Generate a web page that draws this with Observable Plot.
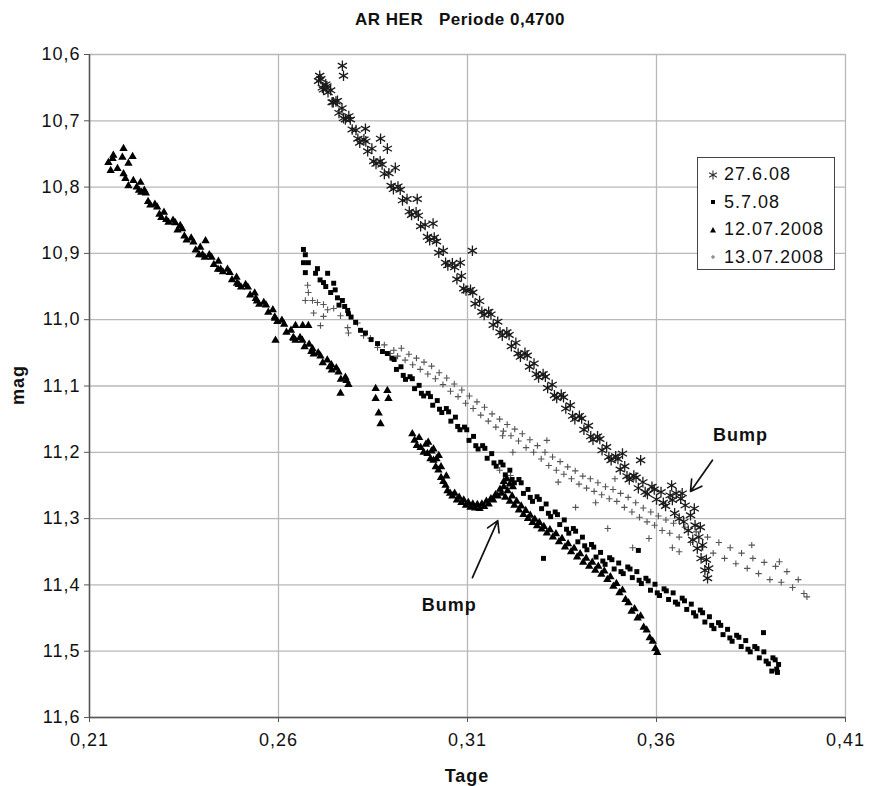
<!DOCTYPE html>
<html>
<head>
<meta charset="utf-8">
<script src="https://cdn.jsdelivr.net/npm/d3@7"></script>
<script src="https://cdn.jsdelivr.net/npm/@observablehq/plot@0.6"></script>
<style>
  body { margin: 0; background: #fff; font-family: "Liberation Sans", Arial, sans-serif; }
  #wrap { position: relative; width: 876px; height: 786px; overflow: hidden; }
  #title { position: absolute; left: 460px; top: 11px; transform: translateX(-50%); line-height: 18px;
           font-weight: bold; font-size: 17px; letter-spacing: 0.5px; color: #111; white-space: pre; }
  #chart { position: absolute; left: 0; top: 40px; }
  #chart svg text { letter-spacing: 1px; }
  #ylab { position: absolute; left: 18px; top: 385px; transform: translate(-50%, -50%) rotate(-90deg);
          font-weight: bold; font-size: 18px; letter-spacing: 1px; color: #111; }
  #xlab { position: absolute; left: 467px; top: 776px; transform: translate(-50%, -50%);
          font-weight: bold; font-size: 18px; letter-spacing: 1px; color: #111; }
  #legend { position: absolute; left: 697px; top: 157px; width: 138px; height: 113px; box-sizing: border-box;
            border: 1px solid #444; background: #fff; padding-top: 3px; }
  .row { height: 27.5px; display: flex; align-items: center; font-size: 18px; letter-spacing: 1px; color: #111; }
  .row svg { width: 12px; height: 12px; margin-left: 9px; margin-right: 5px; }
</style>
</head>
<body>
<div id="wrap">
  <div id="chart"></div>
  <div id="title">AR HER   Periode 0,4700</div>
  <div id="ylab">mag</div>
  <div id="xlab">Tage</div>
  <div id="legend"></div>
</div>
<script>
// ---- data (Tage, mag) ----
const seriesNames = ["27.6.08", "5.7.08", "12.07.2008", "13.07.2008"];
const xTicks = [0.21, 0.26, 0.31, 0.36, 0.41];
const yTicks = [10.6, 10.7, 10.8, 10.9, 11.0, 11.1, 11.2, 11.3, 11.4, 11.5, 11.6];

const d27_6 = [
  [0.2706,10.640],[0.2712,10.637],[0.2719,10.653],[0.2725,10.645],[0.2731,10.657],[0.2738,10.654],[0.2745,10.672],[0.2752,10.671],
  [0.2760,10.688],[0.2768,10.681],[0.2777,10.698],[0.2786,10.693],[0.2795,10.713],[0.2805,10.714],[0.2815,10.733],[0.2826,10.728],
  [0.2836,10.746],[0.2847,10.742],[0.2858,10.765],[0.2869,10.761],[0.2880,10.780],[0.2892,10.779],[0.2904,10.803],[0.2916,10.799],
  [0.2928,10.820],[0.2940,10.818],[0.2952,10.842],[0.2964,10.838],[0.2976,10.859],[0.2988,10.857],[0.3000,10.880],[0.3012,10.876],
  [0.3024,10.899],[0.3036,10.896],[0.3048,10.918],[0.3060,10.915],[0.3072,10.939],[0.3084,10.934],[0.3096,10.956],[0.3108,10.955],
  [0.3120,10.976],[0.3132,10.972],[0.3144,10.993],[0.3156,10.988],[0.3168,11.008],[0.3180,11.003],[0.3192,11.024],[0.3204,11.019],
  [0.3216,11.040],[0.3228,11.035],[0.3240,11.056],[0.3252,11.050],[0.3264,11.071],[0.3276,11.066],[0.3288,11.087],[0.3300,11.082],
  [0.3312,11.103],[0.3324,11.098],[0.3336,11.118],[0.3348,11.113],[0.3360,11.134],[0.3372,11.129],[0.3384,11.150],[0.3396,11.145],
  [0.3408,11.166],[0.3420,11.160],[0.3432,11.181],[0.3444,11.176],[0.3456,11.197],[0.3468,11.192],[0.3480,11.212],[0.3492,11.206],
  [0.3504,11.226],[0.3516,11.221],[0.3528,11.241],[0.3540,11.235],[0.3552,11.254],[0.3564,11.245],[0.3576,11.263],[0.3588,11.252],
  [0.3600,11.271],[0.3612,11.260],[0.3624,11.281],[0.3636,11.265],[0.3648,11.292],[0.3652,11.262],[0.3660,11.300],[0.3664,11.270],
  [0.3672,11.305],[0.3676,11.280],[0.3684,11.318],[0.3690,11.295],[0.3696,11.332],[0.3702,11.310],[0.3708,11.345],[0.3712,11.328],
  [0.3718,11.360],[0.3722,11.340],[0.3728,11.378],[0.3732,11.362],[0.3735,11.390],[0.3738,11.375],
  [0.2709,10.632],[0.2716,10.650],[0.2728,10.648],[0.2742,10.672],[0.2756,10.670],[0.2772,10.696],[0.2790,10.698],[0.2810,10.727],
  [0.2831,10.731],[0.2852,10.761],[0.2874,10.766],[0.2898,10.798],[0.2922,10.804],[0.2946,10.837],[0.2970,10.843],[0.2994,10.875],
  [0.3018,10.882],[0.3042,10.914],[0.3066,10.921],[0.3090,10.953],[0.3114,10.959],[0.3138,10.988],[0.3162,10.992],[0.3186,11.019],
  [0.3210,11.023],[0.3234,11.051],[0.3258,11.054],[0.3282,11.082],[0.3306,11.086],[0.3330,11.114],[0.3354,11.117],[0.3378,11.145],
  [0.3402,11.149],[0.3426,11.176],[0.3450,11.180],[0.3474,11.207],[0.3498,11.210],[0.3522,11.236],[0.3546,11.238],[0.3570,11.260],
  [0.3594,11.256],[0.3618,11.276],[0.3642,11.272],
  [0.2769,10.617],[0.2772,10.632],[0.3113,10.896],[0.2830,10.712],[0.2870,10.727],[0.2888,10.742],[0.2909,10.771],[0.2967,10.818],
  [0.3009,10.855],[0.3081,10.914],[0.3510,11.202],[0.3558,11.212],[0.3716,11.313],[0.3640,11.250],[0.3668,11.262],[0.3700,11.285]
];

const d5_7 = [
  [0.2666,10.894],[0.2671,10.902],[0.2666,10.914],[0.2679,10.914],[0.2671,10.929],[0.2698,10.930],[0.2703,10.923],[0.2719,10.944],
  [0.2730,10.930],[0.2746,10.945],[0.2738,10.959],[0.2756,10.967],[0.2769,10.971],[0.2783,10.986],[0.2785,10.991],[0.2710,10.940],
  [0.2725,10.950],[0.2750,10.955],[0.2760,10.978],[0.2775,10.980],[0.2792,10.996],[0.2804,11.004],[0.2817,11.016],[0.2830,11.020],
  [0.2845,11.030],[0.2862,11.036],[0.2875,11.048],[0.2888,11.051],
  [0.2900,11.058],[0.2912,11.075],[0.2924,11.071],[0.2936,11.090],[0.2948,11.086],[0.2960,11.104],[0.2972,11.099],[0.2984,11.115],
  [0.2996,11.111],[0.3008,11.129],[0.3020,11.122],[0.3032,11.140],[0.3044,11.134],[0.3056,11.153],[0.3068,11.147],[0.3080,11.166],
  [0.3092,11.162],[0.3104,11.182],[0.3116,11.176],[0.3128,11.195],[0.3140,11.190],[0.3152,11.209],[0.3164,11.202],[0.3176,11.221],
  [0.3188,11.215],[0.3200,11.234],[0.3212,11.227],[0.3224,11.246],[0.3236,11.241],[0.3248,11.262],[0.3260,11.256],[0.3272,11.274],
  [0.3284,11.267],[0.3296,11.285],[0.3308,11.278],[0.3320,11.297],[0.3332,11.290],[0.3344,11.309],[0.3356,11.302],[0.3368,11.322],
  [0.3380,11.315],[0.3392,11.335],[0.3404,11.328],[0.3416,11.347],[0.3428,11.339],[0.3440,11.358],[0.3452,11.351],[0.3464,11.369],
  [0.3476,11.359],[0.3488,11.376],[0.3500,11.367],[0.3512,11.383],[0.3524,11.373],[0.3536,11.389],[0.3548,11.380],[0.3560,11.398],
  [0.3572,11.390],[0.3584,11.408],[0.3596,11.399],[0.3608,11.416],[0.3620,11.406],[0.3632,11.422],[0.3644,11.412],[0.3656,11.429],
  [0.3668,11.420],[0.3680,11.437],[0.3692,11.429],[0.3704,11.447],[0.3716,11.438],[0.3728,11.456],[0.3740,11.448],[0.3752,11.466],
  [0.3764,11.457],[0.3776,11.475],[0.3788,11.467],[0.3800,11.485],[0.3812,11.476],[0.3824,11.493],[0.3836,11.484],[0.3848,11.501],
  [0.3860,11.493],[0.3872,11.510],[0.3884,11.501],[0.3896,11.519],[0.3908,11.510],[0.3918,11.527],[0.3923,11.520],
  [0.2906,11.060],[0.2930,11.084],[0.2954,11.089],[0.2978,11.111],[0.3002,11.116],[0.3026,11.135],[0.3050,11.139],[0.3074,11.161],
  [0.3098,11.166],[0.3122,11.190],[0.3146,11.194],[0.3170,11.216],[0.3194,11.219],[0.3218,11.241],[0.3242,11.246],[0.3266,11.268],
  [0.3290,11.271],[0.3314,11.292],[0.3338,11.294],[0.3362,11.316],[0.3386,11.319],[0.3410,11.341],[0.3434,11.343],[0.3458,11.364],
  [0.3482,11.362],[0.3506,11.380],[0.3530,11.376],[0.3554,11.393],[0.3578,11.394],[0.3602,11.412],[0.3626,11.409],[0.3650,11.426],
  [0.3674,11.424],[0.3698,11.442],[0.3722,11.442],[0.3746,11.461],[0.3770,11.461],[0.3794,11.480],[0.3818,11.479],[0.3842,11.497],
  [0.3866,11.496],[0.3890,11.515],[0.3914,11.513],
  [0.3301,11.360],[0.3552,11.348],[0.3883,11.472],[0.3905,11.530],[0.3920,11.532]
];

const d12_7 = [
  [0.2190,10.742],[0.2163,10.752],[0.2161,10.757],[0.2150,10.763],[0.2187,10.755],[0.2214,10.754],[0.2203,10.764],[0.2156,10.775],
  [0.2174,10.772],[0.2190,10.780],[0.2195,10.787],[0.2203,10.798],[0.2235,10.793],[0.2216,10.790],
  [0.2225,10.800],[0.2237,10.808],[0.2249,10.809],[0.2261,10.827],[0.2273,10.826],[0.2285,10.841],[0.2297,10.838],[0.2309,10.853],
  [0.2321,10.850],[0.2333,10.865],[0.2345,10.863],[0.2357,10.880],[0.2369,10.877],[0.2381,10.895],[0.2393,10.891],[0.2405,10.906],
  [0.2417,10.902],[0.2429,10.917],[0.2441,10.912],[0.2453,10.928],[0.2465,10.924],[0.2477,10.940],[0.2489,10.936],[0.2501,10.951],
  [0.2513,10.947],[0.2525,10.963],[0.2537,10.960],[0.2549,10.977],[0.2561,10.974],[0.2573,10.989],[0.2585,10.985],[0.2597,11.003],
  [0.2609,11.001],[0.2621,11.019],[0.2633,11.016],[0.2645,11.031],[0.2657,11.027],[0.2669,11.041],[0.2681,11.037],[0.2693,11.052],
  [0.2705,11.050],[0.2717,11.065],[0.2729,11.061],[0.2741,11.076],[0.2753,11.073],[0.2765,11.090],[0.2777,11.087],[0.2785,11.098],
  [0.2245,10.805],[0.2290,10.846],[0.2340,10.858],[0.2390,10.902],[0.2440,10.924],[0.2490,10.945],[0.2540,10.968],[0.2590,10.996],
  [0.2640,11.028],[0.2690,11.044],[0.2740,11.068],[0.2780,11.092],
  [0.2231,10.805],[0.2255,10.822],[0.2279,10.830],[0.2303,10.849],[0.2327,10.854],[0.2351,10.874],[0.2375,10.883],[0.2399,10.902],
  [0.2423,10.906],[0.2447,10.924],[0.2471,10.929],[0.2495,10.947],[0.2519,10.951],[0.2543,10.972],[0.2567,10.978],[0.2591,10.998],
  [0.2615,11.007],[0.2639,11.027],[0.2663,11.031],[0.2687,11.048],[0.2711,11.055],[0.2735,11.071],[0.2759,11.079],
  [0.2407,10.881],[0.2645,11.009],[0.2664,11.009],[0.2679,11.009],[0.2857,11.104],[0.2888,11.107],[0.2857,11.119],[0.2891,11.119],
  [0.2865,11.141],[0.2870,11.157],[0.2592,11.031],[0.2764,11.111],
  [0.2954,11.172],[0.2960,11.182],[0.2966,11.190],[0.2976,11.193],[0.2972,11.178],[0.2984,11.200],[0.2994,11.202],[0.2990,11.188],
  [0.3002,11.210],[0.3010,11.212],[0.3005,11.198],[0.3016,11.222],[0.3023,11.227],[0.3018,11.210],[0.3030,11.238],[0.3036,11.244],
  [0.3030,11.222],[0.3042,11.250],[0.3047,11.258],[0.3044,11.236],[0.3054,11.262],[0.3060,11.266],[0.3066,11.262],[0.3072,11.272],
  [0.3078,11.268],[0.3084,11.276],[0.3090,11.272],[0.3096,11.280],[0.3102,11.276],[0.3108,11.283],[0.3114,11.278],[0.3120,11.284],
  [0.3126,11.279],[0.3132,11.285],[0.3138,11.278],[0.3144,11.282],[0.3150,11.274],[0.3156,11.278],[0.3162,11.270],[0.3168,11.272],
  [0.3174,11.264],[0.3180,11.266],[0.3186,11.256],[0.3190,11.262],[0.3196,11.252],[0.3200,11.268],[0.3206,11.258],[0.3212,11.274],
  [0.3218,11.266],[0.3224,11.280],[0.3230,11.274],[0.3236,11.287],[0.3242,11.281],[0.3248,11.294],[0.3254,11.288],[0.3260,11.300],
  [0.3266,11.295],[0.3272,11.306],[0.3278,11.301],[0.3284,11.311],[0.3290,11.306],[0.3296,11.316],[0.3302,11.312],[0.3310,11.322],
  [0.3318,11.317],[0.3326,11.328],[0.3334,11.323],[0.3342,11.335],[0.3350,11.330],[0.3358,11.343],[0.3366,11.338],[0.3374,11.350],
  [0.3382,11.345],[0.3390,11.358],[0.3398,11.353],[0.3406,11.366],[0.3414,11.360],[0.3422,11.372],[0.3430,11.366],[0.3438,11.378],
  [0.3446,11.372],[0.3454,11.384],[0.3462,11.379],[0.3470,11.392],[0.3478,11.388],[0.3486,11.402],[0.3494,11.398],[0.3502,11.412],
  [0.3510,11.408],[0.3518,11.422],[0.3526,11.427],[0.3534,11.440],[0.3542,11.436],[0.3550,11.450],[0.3558,11.447],[0.3566,11.464],
  [0.3574,11.468],[0.3582,11.480],[0.3590,11.485],[0.3597,11.496],[0.3602,11.502],
  [0.3196,11.244],[0.3204,11.240],[0.3212,11.248],[0.3220,11.252],[0.2996,11.185],[0.3010,11.195],[0.3024,11.205]
];

const d13_7 = [
  [0.2677,10.948],[0.2679,10.959],[0.2671,10.971],[0.2690,10.971],[0.2703,10.974],[0.2693,10.990],[0.2719,10.977],[0.2730,10.985],
  [0.2719,10.995],[0.2711,11.009],[0.2746,10.983],[0.2764,10.994],[0.2783,11.012],[0.2809,11.005],[0.2785,11.020],[0.2825,11.024],
  [0.2843,11.028],[0.2862,11.042],[0.2880,11.038],[0.2896,11.051],
  [0.2905,11.046],[0.2915,11.055],[0.2925,11.043],[0.2935,11.061],[0.2945,11.052],[0.2955,11.068],[0.2965,11.058],[0.2975,11.075],
  [0.2985,11.064],[0.2995,11.082],[0.3005,11.070],[0.3015,11.089],[0.3025,11.080],[0.3035,11.098],[0.3045,11.088],[0.3055,11.108],
  [0.3065,11.097],[0.3075,11.116],[0.3085,11.106],[0.3095,11.126],[0.3105,11.115],[0.3115,11.134],[0.3125,11.124],[0.3135,11.144],
  [0.3145,11.132],[0.3155,11.153],[0.3165,11.142],[0.3175,11.162],[0.3185,11.150],[0.3195,11.168],[0.3205,11.158],[0.3215,11.175],
  [0.3225,11.165],[0.3235,11.183],[0.3245,11.172],[0.3255,11.193],[0.3265,11.181],[0.3275,11.200],[0.3285,11.190],[0.3295,11.210],
  [0.3305,11.200],[0.3315,11.220],[0.3325,11.207],[0.3335,11.227],[0.3345,11.214],[0.3355,11.233],[0.3365,11.222],[0.3375,11.240],
  [0.3385,11.228],[0.3395,11.248],[0.3405,11.236],[0.3415,11.254],[0.3425,11.240],[0.3435,11.259],[0.3445,11.246],[0.3455,11.264],
  [0.3465,11.252],[0.3475,11.270],[0.3485,11.256],[0.3495,11.274],[0.3505,11.262],[0.3515,11.283],[0.3525,11.268],[0.3535,11.290],
  [0.3545,11.276],[0.3555,11.298],[0.3565,11.284],[0.3575,11.305],[0.3585,11.290],[0.3595,11.310],[0.3605,11.296],[0.3615,11.318],
  [0.3625,11.302],[0.3635,11.322],[0.3645,11.307],[0.3660,11.328],[0.3675,11.313],[0.3690,11.336],[0.3705,11.320],[0.3720,11.343],
  [0.3735,11.328],[0.3750,11.352],[0.3765,11.336],[0.3780,11.360],[0.3795,11.344],[0.3810,11.368],[0.3825,11.352],[0.3840,11.375],
  [0.3855,11.360],[0.3870,11.383],[0.3885,11.366],[0.3900,11.392],[0.3915,11.372],[0.3930,11.396],[0.3945,11.380],[0.3960,11.404],
  [0.3975,11.392],[0.3990,11.413],[0.3998,11.418],
  [0.3642,11.344],[0.3220,11.200],[0.3340,11.245],[0.3580,11.330],[0.3660,11.350],[0.3852,11.340],[0.3925,11.365],[0.3310,11.182],
  [0.3490,11.240],[0.3193,11.175],[0.3185,11.227],[0.3214,11.235],[0.3386,11.283],[0.3439,11.276],[0.3471,11.315],[0.3537,11.344]
];

// annotations
const bumpLabels = [
  {x: 0.3822, y: 11.174, text: "Bump"},
  {x: 0.3052, y: 11.430, text: "Bump"}
];
const bumpArrows = [
  {x1: 0.3748, y1: 11.212, x2: 0.3690, y2: 11.259},
  {x1: 0.3113, y1: 11.389, x2: 0.3180, y2: 11.303}
];

const fmtX = d => d.toFixed(2).replace(".", ",");
const fmtY = d => d.toFixed(1).replace(".", ",");
const X = d => d[0], Y = d => d[1];

const chart = Plot.plot({
  width: 876,
  height: 746,
  marginTop: 14,
  marginBottom: 69,
  marginLeft: 89,
  marginRight: 31,
  x: {domain: [0.21, 0.41]},
  y: {domain: [10.6, 11.6], reverse: true},
  style: {fontFamily: "'Liberation Sans', Arial, sans-serif", fontSize: "18px", color: "#111", background: "#fff"},
  marks: [
    Plot.gridX(xTicks, {stroke: "#b8b8b8", strokeOpacity: 1, strokeWidth: 1.3}),
    Plot.gridY(yTicks, {stroke: "#b8b8b8", strokeOpacity: 1, strokeWidth: 1.3}),
    Plot.ruleX([0.21], {stroke: "#555", strokeWidth: 1.5}),
    Plot.ruleY([11.6], {stroke: "#555", strokeWidth: 1.5}),
    Plot.axisX(xTicks, {tickFormat: fmtX, tickSize: 5, tickPadding: 11, label: null, stroke: "#555"}),
    Plot.axisY(yTicks, {tickFormat: fmtY, tickSize: 5, tickPadding: 4, label: null, stroke: "#555"}),
    Plot.dot(d13_7, {x: X, y: Y, symbol: "plus", r: 2.2, stroke: "#555", strokeWidth: 1.1}),
    Plot.dot(d5_7, {x: X, y: Y, symbol: "square", r: 2.8, fill: "#000", stroke: "none"}),
    Plot.dot(d12_7, {x: X, y: Y, symbol: "triangle", r: 3.1, fill: "#000", stroke: "none"}),
    Plot.dot(d27_6, {x: X, y: Y, symbol: "asterisk", r: 5, stroke: "#1a1a1a", strokeWidth: 1.3}),
    Plot.arrow(bumpArrows, {x1: "x1", y1: "y1", x2: "x2", y2: "y2", stroke: "#111", strokeWidth: 1.7, headLength: 11}),
    Plot.text(bumpLabels, {x: "x", y: "y", text: "text", fontWeight: "bold", fontSize: 18, fill: "#111"})
  ]
});
document.getElementById("chart").appendChild(chart);

// legend
const legendSymbols = [
  '<svg viewBox="-6 -6 12 12"><path d="M0,-4.5V4.5M-3.9,-2.25L3.9,2.25M-3.9,2.25L3.9,-2.25" stroke="#333" stroke-width="1.1" fill="none"/></svg>',
  '<svg viewBox="-6 -6 12 12"><rect x="-2" y="-2" width="4" height="4" fill="#000"/></svg>',
  '<svg viewBox="-6 -6 12 12"><path d="M0,-3L3,2.5H-3Z" fill="#000"/></svg>',
  '<svg viewBox="-6 -6 12 12"><path d="M-2,0H2M0,-2V2" stroke="#6a6a6a" stroke-width="1"/></svg>'
];
const legend = document.getElementById("legend");
seriesNames.forEach((name, i) => {
  const row = document.createElement("div");
  row.className = "row";
  row.innerHTML = legendSymbols[i] + "<span>" + name + "</span>";
  legend.appendChild(row);
});
</script>
</body>
</html>
